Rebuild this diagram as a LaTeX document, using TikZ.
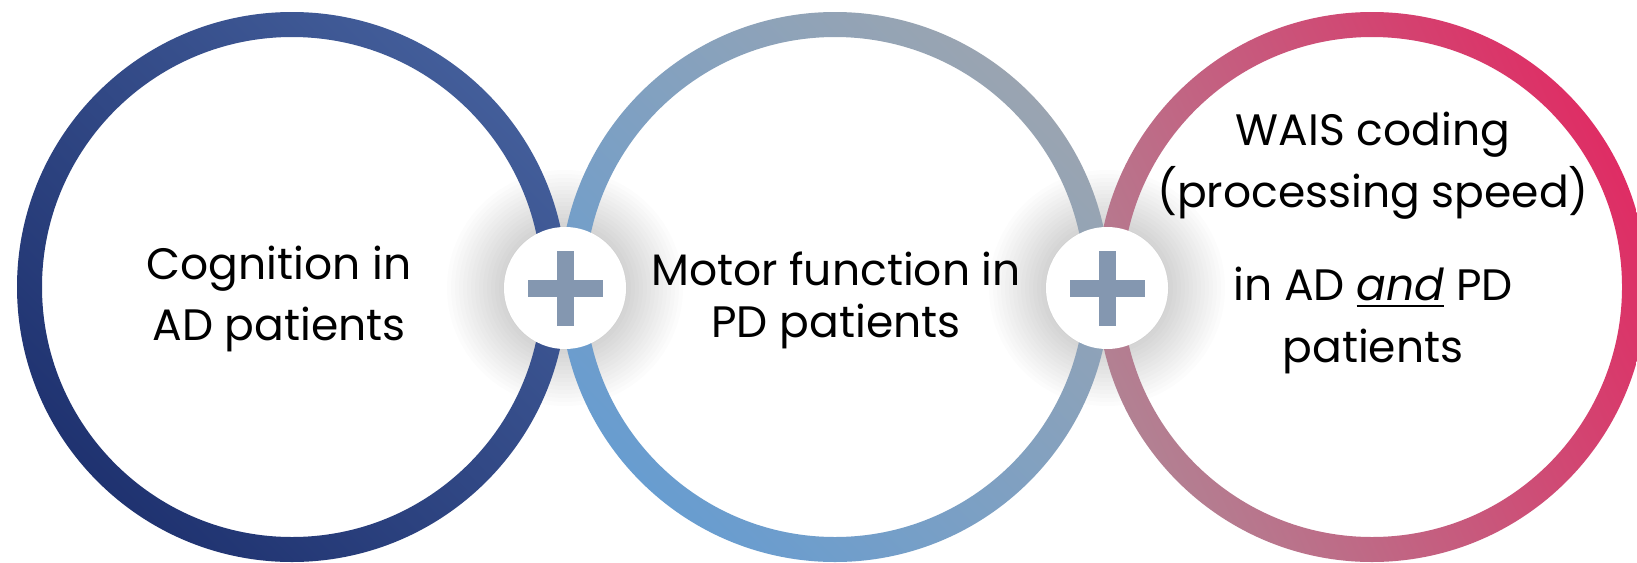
\documentclass[tikz,border=0pt]{standalone}
\usepackage{fontspec}
\setmainfont{Poppins}
\usetikzlibrary{calc}
\definecolor{c1a}{HTML}{182A68}
\definecolor{c1b}{HTML}{4A66A2}
\definecolor{c2a}{HTML}{5E9BD6}
\definecolor{c2b}{HTML}{A4A6AB}
\definecolor{c3a}{HTML}{A9929C}
\definecolor{c3b}{HTML}{E81C5B}
\definecolor{plusc}{HTML}{8497B0}
\pgfdeclareverticalshading{ringA}{100bp}{color(0bp)=(c1a); color(15bp)=(c1a); color(85bp)=(c1b); color(100bp)=(c1b)}
\pgfdeclareverticalshading{ringB}{100bp}{color(0bp)=(c2a); color(15bp)=(c2a); color(85bp)=(c2b); color(100bp)=(c2b)}
\pgfdeclareverticalshading{ringC}{100bp}{color(0bp)=(c3a); color(15bp)=(c3a); color(85bp)=(c3b); color(100bp)=(c3b)}
\newcommand\myul[1]{\setbox0\hbox{#1}\rlap{\rule[-7pt]{\wd0}{2.5pt}}\box0\relax}
\begin{document}
\begin{tikzpicture}[x=1pt,y=-1pt,
  txt/.style={anchor=base, inner sep=0pt, font=\fontsize{44}{52}\selectfont, text=black},
  plusbg/.style={fill=white},
  plusbar/.style={fill=plusc}]
\useasboundingbox (0,0) rectangle (1637,562);
\clip (0,0) rectangle (1637,562);
\fill[white] (0,0) rectangle (1637,562);
\coordinate (c1) at (292,287);
\coordinate (c2) at (835,287);
\coordinate (c3) at (1372,287);
\coordinate (p1) at (565,288);
\coordinate (p2) at (1107,288);
% glows
\foreach \r in {62,66,...,118} {
  \fill[black, opacity=0.010] (p1) circle (\r pt);
  \fill[black, opacity=0.010] (p2) circle (\r pt);
}
% rings
\shade[shading=ringA, shading angle=-45, even odd rule] (c1) circle (275pt) (c1) circle (250pt);
\shade[shading=ringB, shading angle=-45, even odd rule] (c2) circle (275pt) (c2) circle (250pt);
\shade[shading=ringC, shading angle=-65, even odd rule] (c3) circle (275pt) (c3) circle (250pt);
% plus signs
\foreach \p in {p1,p2} {
  \fill[plusbg] (\p) circle (61pt);
  \fill[plusbar] ($(\p)+(-8.5,-37.5)$) rectangle ($(\p)+(8.5,37.5)$);
  \fill[plusbar] ($(\p)+(-37.5,-8.5)$) rectangle ($(\p)+(37.5,8.5)$);
}
% texts
\node[txt] (t1a) at (279,279) {Cognition in};
\node[txt] (t1b) at (279,340.5) {AD patients};
\node[txt] (t2a) at (836,285.5) {Motor function in};
\node[txt] (t2b) at (836,337) {PD patients};
\node[txt] (t3a) at (1373,145) {WAIS coding};
\node[txt] (t3b) at (1373,207) {(processing speed)};
\node[txt] (t3c) at (1373,300) {in AD \myul{\textit{and}} PD};
\node[txt] (t3d) at (1373,362) {patients};
\end{tikzpicture}
\end{document}
